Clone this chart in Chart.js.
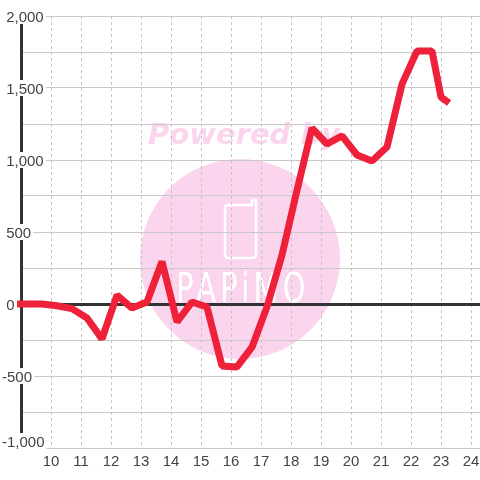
<!DOCTYPE html>
<html>
<head>
<meta charset="utf-8">
<style>html,body{margin:0;padding:0;background:#fff}canvas{display:block}</style>
<script src="https://cdn.jsdelivr.net/npm/chart.js@4"></script>
</head>
<body>
<canvas id="c" width="480" height="480"></canvas>
<script>
const hours = [8.87,9.2,9.7,10.2,10.7,11.2,11.7,12.2,12.7,13.2,13.7,14.2,14.7,15.2,15.7,16.2,16.7,17.2,17.7,18.2,18.7,19.2,19.7,20.2,20.7,21.2,21.7,22.2,22.7,23.0,23.27];
const values = [0,0,0,-12,-32,-97,-243,62,-28,14,295,-125,14,-21,-430,-437,-300,-20,340,790,1222,1111,1167,1035,993,1090,1527,1757,1757,1437,1396];
const xTickValues = [9,10,11,12,13,14,15,16,17,18,19,20,21,22,23,24];
const yTickStep = 250;
const watermarkTitle = "Powered by";
const watermarkName = "PAPiMO";

const watermark = {
  id: "watermark",
  beforeDraw(chart) {
    const g = chart.ctx;
    g.save();
    g.fillStyle = "#fff"; g.fillRect(0,0,480,480);
    g.fillStyle = "#fbd5ee";
    g.beginPath(); g.arc(240,259,100,0,Math.PI*2); g.fill();
    g.font = "italic bold 29px 'DejaVu Sans'";
    g.textBaseline = "alphabetic"; g.textAlign = "left";
    g.fillText(watermarkTitle,148,144);
    g.strokeStyle = "#fff"; g.lineWidth = 2.5; g.lineJoin = "round";
    g.beginPath();
    g.moveTo(228,205); g.lineTo(252,205); g.lineTo(252,200); g.lineTo(256,200);
    g.lineTo(256,254); g.quadraticCurveTo(256,258,252,258);
    g.lineTo(229,258); g.quadraticCurveTo(225,258,225,254);
    g.lineTo(225,209); g.quadraticCurveTo(225,205,228,205);
    g.stroke();
    g.fillStyle = "#fff";
    g.font = "40px 'DejaVu Sans'";
    g.textAlign = "center";
    g.letterSpacing = "6px";
    g.translate(243,302);
    g.scale(0.72,1);
    g.fillText(watermarkName,0,0);
    g.restore();
  }
};

new Chart(document.getElementById("c"), {
  type: "line",
  data: {
    datasets: [{
      data: hours.map((h,i)=>({x:h,y:values[i]})),
      borderColor: "#ef2039",
      borderWidth: 7,
      pointRadius: 0,
      tension: 0,
      borderJoinStyle: "bevel",
      borderCapStyle: "butt",
      clip: false
    }]
  },
  options: {
    responsive: false,
    animation: false,
    events: [],
    layout: { autoPadding: false, padding: { top: 16, left: 0, right: 0, bottom: 0 } },
    plugins: { legend: { display: false }, tooltip: { enabled: false }, title: { display: false } },
    scales: {
      x: {
        type: "linear",
        bounds: "data",
        min: 9,
        max: 24.3,
        afterFit(s) { s.height = 32; s.paddingLeft = 0; s.paddingRight = 0; },
        afterBuildTicks(s) { s.ticks = xTickValues.map(v=>({value:v})); },
        border: { display: false, dash: [3,3] },
        grid: { color: c => c.tick && c.tick.value === 9 ? "transparent" : "#c4c4c4", lineWidth: 1, drawTicks: false },
        ticks: {
          autoSkip: false, maxRotation: 0,
          padding: 5,
          color: "#444",
          font: { family: "'Liberation Sans'", size: 15 },
          callback: v => v === 9 ? "" : String(v)
        }
      },
      y: {
        type: "linear",
        bounds: "data",
        min: -1000,
        max: 2000,
        afterFit(s) {
          s.width = 21; s.paddingTop = 0; s.paddingBottom = 0;
          if (!s._wrapped) {
            s._wrapped = true;
            const base = s._computeLabelItems.bind(s);
            s._computeLabelItems = area => base(area).map(item => {
              item.textOffset += 1.5;
              if (item.label === "-1,000") item.options.translation[1] -= 7;
              return item;
            });
          }
        },
        border: { display: true, color: "#333", width: 3 },
        grid: {
          color: c => c.tick && c.tick.value === 0 ? "#333" : "#c8c8c8",
          lineWidth: c => c.tick && c.tick.value === 0 ? 3 : 1,
          drawTicks: false
        },
        ticks: {
          stepSize: yTickStep,
          autoSkip: false,
          mirror: true,
          padding: -19,
          color: "#444",
          font: { family: "'Liberation Sans'", size: 15, lineHeight: "16px" },
          showLabelBackdrop: c => !!c.tick && c.tick.value % 500 === 0,
          backdropColor: "#fff",
          backdropPadding: { top: 0, bottom: 0, left: 0, right: 2 },
          callback: v => {
            if (v % 500 !== 0) return "";
            const s = Math.abs(v).toLocaleString("en-US");
            return v < 0 ? "-" + s : "\u00a0" + s;
          }
        }
      }
    }
  },
  plugins: [watermark]
});
</script>
</body>
</html>
